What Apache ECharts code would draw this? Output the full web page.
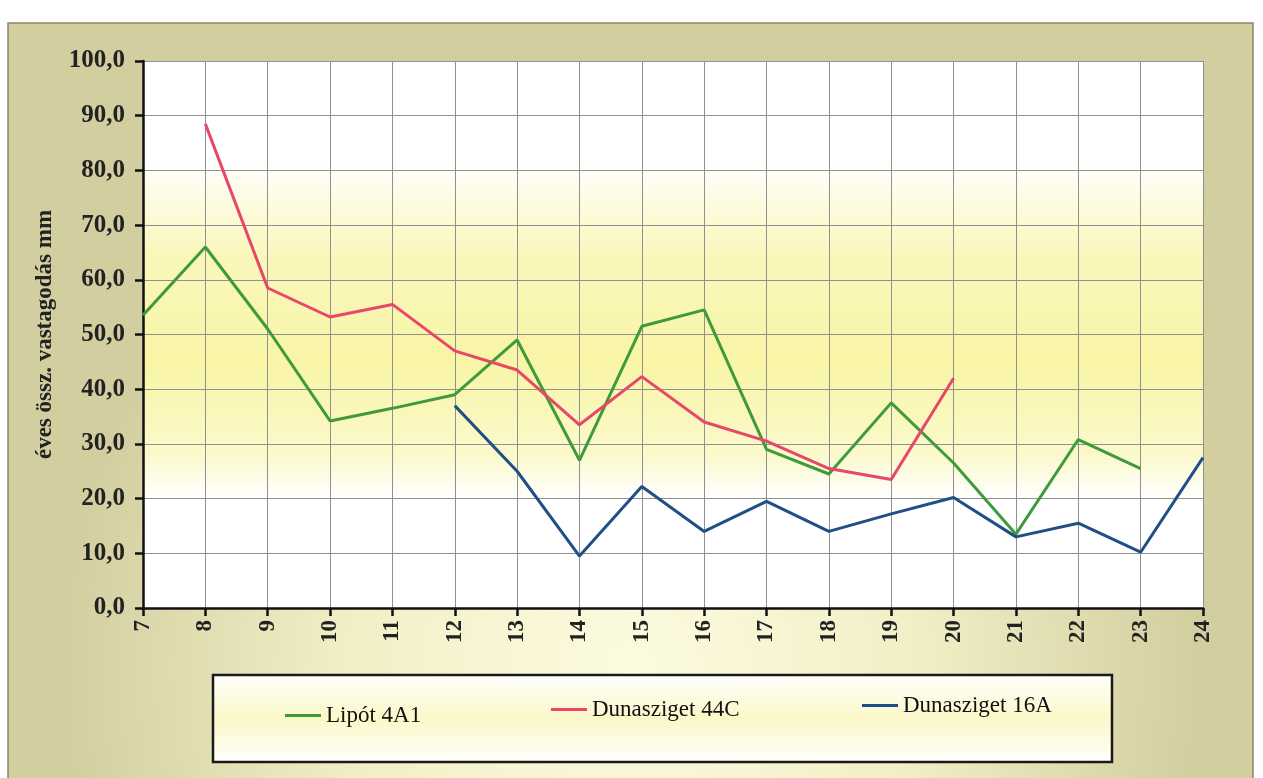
<!DOCTYPE html>
<html><head><meta charset="utf-8">
<script src="https://cdn.jsdelivr.net/npm/echarts@6/dist/echarts.min.js"></script>
<style>html,body{margin:0;padding:0;background:#fff}#c{width:1263px;height:778px}</style>
</head><body><div id="c"></div>
<script>
const categories = ['7','8','9','10','11','12','13','14','15','16','17','18','19','20','21','22','23','24'];
const yTicks = [0,10,20,30,40,50,60,70,80,90,100];
const lipot4A1 = [53.5,66.0,51.0,34.2,36.5,39.0,49.0,27.0,51.5,54.5,29.0,24.5,37.5,26.5,13.5,30.8,25.5,null];
const duna44C = [null,88.5,58.5,53.2,55.5,47.0,43.5,33.5,42.3,34.0,30.5,25.5,23.5,42.0,null,null,null,null];
const duna16A = [null,null,null,null,null,37.0,25.0,9.5,22.2,14.0,19.5,14.0,17.2,20.2,13.0,15.5,10.2,27.5];
const seriesNames = ['Lipót 4A1','Dunasziget 44C','Dunasziget 16A'];
const colors = ['#3f9a3a','#e8476a','#1f4f86'];

const chart = echarts.init(document.getElementById('c'));
const serif = '"Liberation Serif","DejaVu Serif",serif';
const legendText = {fontFamily: serif, fontSize: 23, color: '#111'};
function mkLegend(i, left, top){
  return {data:[seriesNames[i]], left:left, top:top, icon:'rect', itemWidth:36, itemHeight:3, itemGap:2, textStyle:legendText, padding:0};
}
chart.setOption({
  animation:false,
  backgroundColor:'#fff',
  graphic:[
    {type:'rect', z:-10, shape:{x:8,y:23,width:1245,height:760},
     style:{fill:new echarts.graphic.RadialGradient(0.5,0.85,0.75,[
       {offset:0,color:'#fdfbe0'},{offset:0.5,color:'#f2efc6'},{offset:1,color:'#d3cea0'}]),
       stroke:'#8c8866', lineWidth:1.5}},
    {type:'rect', z:-5, shape:{x:213,y:675,width:899,height:87},
     style:{fill:new echarts.graphic.LinearGradient(0,0,0,1,[
       {offset:0,color:'#ffffff'},{offset:0.5,color:'#fbf8c8'},{offset:1,color:'#ffffff'}]),
       stroke:'#1a1a1a', lineWidth:2.5}}
  ],
  legend:[mkLegend(0,285,704), mkLegend(1,551,698), mkLegend(2,862,694)],
  grid:{left:143, top:61, right:60, bottom:170, show:true, borderWidth:0,
    backgroundColor:new echarts.graphic.LinearGradient(0,0,0,1,[
      {offset:0,color:'#ffffff'},{offset:0.18,color:'#ffffff'},{offset:0.35,color:'#faf7bd'},
      {offset:0.55,color:'#f8f5a6'},{offset:0.72,color:'#fbf9cc'},{offset:0.8,color:'#ffffff'},{offset:1,color:'#ffffff'}])},
  xAxis:{type:'category', data:categories, boundaryGap:false,
    axisLine:{lineStyle:{color:'#111', width:2.5}},
    axisTick:{show:true, length:8, lineStyle:{color:'#111', width:2.5}},
    axisLabel:{rotate:90, fontFamily:serif, fontWeight:'bold', fontSize:23, color:'#222', margin:12},
    splitLine:{show:true, lineStyle:{color:'#909090', width:1}}},
  yAxis:{type:'value', min:yTicks[0], max:yTicks[yTicks.length-1], interval:10,
    name:'éves össz. vastagodás mm', nameLocation:'middle', nameGap:86,
    nameTextStyle:{fontFamily:serif, fontWeight:'bold', fontSize:23, color:'#222'},
    axisLine:{show:true, lineStyle:{color:'#111', width:2.5}},
    axisTick:{show:true, length:8, lineStyle:{color:'#111', width:2.5}},
    axisLabel:{fontFamily:serif, fontWeight:'bold', fontSize:25, color:'#222', margin:18,
      formatter:v=>v.toFixed(1).replace('.',',')},
    splitLine:{show:true, lineStyle:{color:'#909090', width:1}}},
  series:[lipot4A1,duna44C,duna16A].map((d,i)=>({
    name:seriesNames[i], type:'line', data:d, color:colors[i], symbol:'none',
    lineStyle:{width:3, color:colors[i]}, connectNulls:false}))
});
</script></body></html>
